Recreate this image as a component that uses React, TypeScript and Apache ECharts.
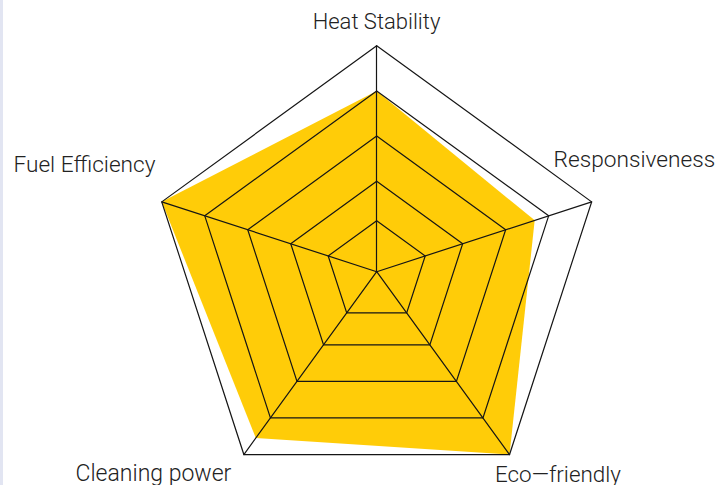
import React, { useEffect, useRef } from "react";
import * as echarts from "echarts";

const indicators = ["Heat Stability", "Fuel Efficiency", "Cleaning power", "Eco—friendly", "Responsiveness"];
const values = [0.8, 1.0, 0.91, 1.0, 0.735];
const maxValue = 1;

// label layout (positions / sizes only)
const labelLayout: Record<string, { x: number; y: number; align: string; size: number }> = {
  "Heat Stability": { x: 376.5, y: 21.5, align: "center", size: 22 },
  "Fuel Efficiency": { x: 13.5, y: 164.5, align: "left", size: 22.6 },
  "Cleaning power": { x: 75.5, y: 473.5, align: "left", size: 23 },
  "Eco—friendly": { x: 495, y: 474, align: "left", size: 22.4 },
  "Responsiveness": { x: 553.5, y: 159.5, align: "left", size: 22.7 },
};

const CENTER = [376.7, 271.7];
const FILL = "#FFCC08";
const LINE = "#151515";
const FONT = "Roboto";

export default function App() {
  const ref = useRef<HTMLDivElement>(null);
  useEffect(() => {
    if (!ref.current) return;
    const chart = echarts.init(ref.current, null, { renderer: "svg" });
    const ind = indicators.map((n) => ({ name: n, max: maxValue, min: 0 }));
    chart.setOption({
      animation: false,
      backgroundColor: "#ffffff",
      radar: [
        {
          center: CENTER,
          radius: 226,
          startAngle: 90,
          splitNumber: 5,
          shape: "polygon",
          indicator: ind,
          z: 3,
          axisName: { show: false },
          axisLine: { show: true, lineStyle: { color: LINE, width: 1.2 } },
          axisTick: { show: false },
          axisLabel: { show: false },
          splitArea: { show: false },
          splitLine: {
            show: true,
            lineStyle: {
              color: ["rgba(0,0,0,0)", "rgba(0,0,0,0)", LINE, LINE, LINE, LINE],
              width: 1.2,
            },
          },
        },
        {
          center: CENTER,
          radius: 51,
          startAngle: 90,
          splitNumber: 1,
          shape: "polygon",
          indicator: ind,
          z: 3,
          axisName: { show: false },
          axisLine: { show: false },
          axisTick: { show: false },
          axisLabel: { show: false },
          splitArea: { show: false },
          splitLine: { show: true, lineStyle: { color: ["rgba(0,0,0,0)", LINE], width: 1.2 } },
        },
      ],
      series: [
        {
          type: "radar",
          radarIndex: 0,
          z: 1,
          symbol: "none",
          lineStyle: { width: 0, color: FILL },
          areaStyle: { color: FILL, opacity: 1 },
          data: [{ value: values, name: "score" }],
        },
      ],
      graphic: [
        {
          type: "rect",
          left: 0,
          top: 0,
          shape: { x: 0, y: 0, width: 3, height: 485 },
          style: { fill: "#E2E5F2" },
          silent: true,
        },
        ...indicators.map((n) => ({
          type: "text",
          x: labelLayout[n].x,
          y: labelLayout[n].y,
          silent: true,
          style: {
            text: n,
            fill: "#222222",
            font: `300 ${labelLayout[n].size}px ${FONT}`,
            textAlign: labelLayout[n].align,
            textVerticalAlign: "middle",
          },
        })),
      ],
    });
    return () => chart.dispose();
  }, []);
  return (
    <div
      ref={ref}
      style={{ position: "fixed", left: 0, top: 0, width: 722, height: 485, background: "#fff" }}
    />
  );
}
